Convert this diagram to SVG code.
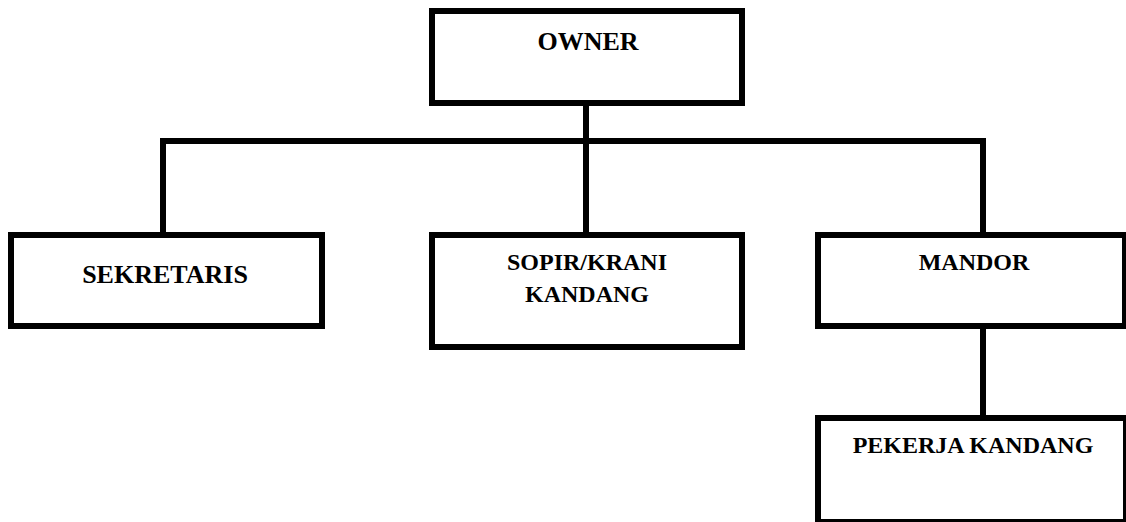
<svg xmlns="http://www.w3.org/2000/svg" width="1126" height="522" viewBox="0 0 1126 522">
<style>
.box{fill:#fff;stroke:#000;stroke-width:6}
.ln{fill:none;stroke:#000;stroke-width:6}
.t{font-family:"Liberation Serif","Times New Roman",serif;font-weight:bold;fill:#000;text-anchor:middle}
</style>
<rect width="1126" height="522" fill="#fff"/>
<g id="connectors">
<line class="ln" x1="586" y1="103" x2="586" y2="141"/>
<polyline class="ln" points="163,235 163,141 983,141 983,235"/>
<line class="ln" x1="586" y1="141" x2="586" y2="235"/>
<line class="ln" x1="983" y1="326" x2="983" y2="418"/>
</g>
<g id="owner">
<rect class="box" x="432" y="11" width="310" height="92"/>
<text class="t" x="588" y="50" font-size="26">OWNER</text>
</g>
<g id="sekretaris">
<rect class="box" x="11" y="235" width="311" height="91"/>
<text class="t" x="165" y="283" font-size="26">SEKRETARIS</text>
</g>
<g id="sopir">
<rect class="box" x="432" y="235" width="310" height="112"/>
<text class="t" x="587" y="270" font-size="24">SOPIR/KRANI</text>
<text class="t" x="587" y="302" font-size="24">KANDANG</text>
</g>
<g id="mandor">
<rect class="box" x="818" y="235" width="307" height="91"/>
<text class="t" x="974" y="270" font-size="24">MANDOR</text>
</g>
<g id="pekerja">
<rect class="box" x="818" y="418" width="308" height="104"/>
<text class="t" x="973" y="453" font-size="24">PEKERJA KANDANG</text>
</g>
</svg>
